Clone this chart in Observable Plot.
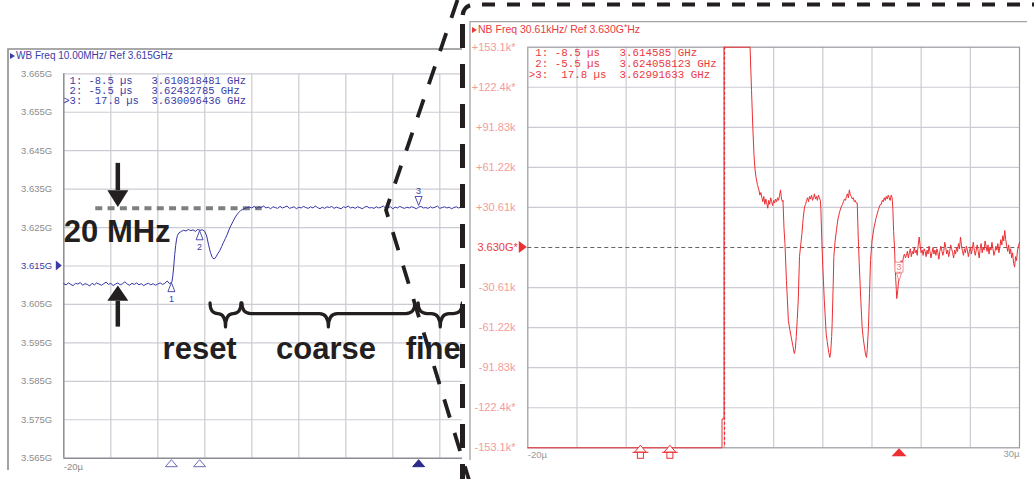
<!DOCTYPE html>
<html>
<head>
<meta charset="utf-8">
<script src="https://cdn.jsdelivr.net/npm/d3@7"></script>
<script src="https://cdn.jsdelivr.net/npm/@observablehq/plot@0.6"></script>
<style>
  html, body { margin: 0; padding: 0; background: #fff; }
  #root { position: relative; width: 1034px; height: 479px; overflow: hidden; background: #fff; font-family: "Liberation Sans", Arial, sans-serif; }
  #leftClip { position: absolute; left: 0; top: 0; width: 462px; height: 479px; overflow: hidden; }
  #leftClip svg, #rightHost svg { position: absolute; left: 0; top: 0; max-width: none !important; width: 1034px !important; height: 479px !important; }
  #rightHost { position: absolute; left: 0; top: 0; width: 1034px; height: 479px; }
  .hdr { position: absolute; white-space: pre; line-height: 12px; font-family: "Liberation Sans", Arial, sans-serif; }
  .hdr sup { font-size: 0.8em; vertical-align: 0.3em; line-height: 0; }
  .tri { display: inline-block; width: 0; height: 0; border-top: 3.5px solid transparent; border-bottom: 3.5px solid transparent; margin-right: 1px; vertical-align: 0px; }
  .tbl { position: absolute; margin: 0; white-space: pre; font-family: "Liberation Mono", "DejaVu Sans Mono", monospace; }
  #overlay { position: absolute; left: 0; top: 0; }
</style>
</head>
<body>
<div id="root">
  <div id="leftClip"></div>
  <div id="rightHost"></div>
  <div class="hdr" style="left:10px;top:50px;font-size:10px;color:#3b3ba6"><span class="tri" style="border-left:5px solid #3b3ba6"></span>WB Freq 10.00MHz/ Ref 3.615GHz</div>
  <pre class="tbl" style="left:63.3px;top:75.5px;font-size:10.5px;line-height:10.3px;color:#3b3ba6"> 1: -8.5 µs   3.610818481 GHz
 2: -5.5 µs   3.62432785 GHz
&gt;3:  17.8 µs  3.630096436 GHz</pre>
  <div class="hdr" style="left:472px;top:22.5px;font-size:10.5px;color:#e93a3f"><span class="tri" style="border-left:5px solid #e93a3f"></span>NB Freq 30.61kHz/ Ref 3.630G<sup>*</sup>Hz</div>
  <pre class="tbl" style="left:528.8px;top:47.8px;font-size:10.8px;line-height:11px;color:#e93a3f"> 1: -8.5 µs   3.614585 GHz
 2: -5.5 µs   3.624058123 GHz
&gt;3:  17.8 µs  3.62991633 GHz</pre>
  <svg id="overlay" width="1034" height="479"></svg>
</div>
<script>
// ---------------- data ----------------
const W = 1034, H = 479;
const xGridTicks = [-20, -15, -10, -5, 0, 5, 10, 15, 20, 25, 30];
const leftYTicks = [3.665, 3.655, 3.645, 3.635, 3.625, 3.615, 3.605, 3.595, 3.585, 3.575, 3.565];
const leftYLabels = ["3.665G", "3.655G", "3.645G", "3.635G", "3.625G", "3.615G", "3.605G", "3.595G", "3.585G", "3.575G", "3.565G"];
const leftRefFreq = 3.615;
const rightYTicks = [153.05, 122.44, 91.83, 61.22, 30.61, 0, -30.61, -61.22, -91.83, -122.44, -153.05];
const rightYLabels = ["+153.1k*", "+122.4k*", "+91.83k", "+61.22k", "+30.61k", "3.630G*", "-30.61k", "-61.22k", "-91.83k", "-122.4k*", "-153.1k*"];
const xStartLabel = "-20µ", xEndLabel = "30µ";

const markerTimes = [-8.5, -5.5, 17.8];
const markerIds = ["1", "2", "3"];
const leftMarkerFreq = [3.6108, 3.6243, 3.6301];
const rightMarker3Value = -20;

// left (wide-band) trace, GHz
const leftSampleStep = 0.25;
const leftNoiseAStart = -20;
const leftNoiseA = [
  3.6104, 3.6101, 3.6106, 3.6102, 3.6099, 3.6105, 3.6103, 3.6107, 3.6100, 3.6104,
  3.6102, 3.6098, 3.6105, 3.6101, 3.6106, 3.6103, 3.6100, 3.6104, 3.6108, 3.6102,
  3.6105, 3.6099, 3.6103, 3.6106, 3.6101, 3.6104, 3.6109, 3.6103, 3.6100, 3.6105,
  3.6102, 3.6106, 3.6101, 3.6104, 3.6099, 3.6103, 3.6105, 3.6101, 3.6104, 3.6100,
  3.6103, 3.6106, 3.6102, 3.6105, 3.6111, 3.6104
];
const leftStepT = [-8.5, -8.4, -8.3, -8.2, -8.1, -8.0, -7.9, -7.75, -7.5,
  -7.25, -7.0, -6.75, -6.5, -6.25, -6.0, -5.75, -5.5, -5.25,
  -5.0, -4.8, -4.6, -4.4, -4.2, -4.0, -3.8, -3.6, -3.4, -3.2, -3.0, -2.8, -2.6, -2.4, -2.2, -2.0, -1.8, -1.6, -1.4, -1.2, -1.0,
  -0.75, -0.5];
const leftStepF = [3.6108, 3.6125, 3.6150, 3.6180, 3.6203, 3.6220, 3.6230, 3.6236, 3.6240,
  3.6243, 3.6241, 3.6245, 3.6242, 3.6244, 3.6240, 3.6245, 3.6243, 3.6244,
  3.6240, 3.6228, 3.6205, 3.6185, 3.6172, 3.6168, 3.6174, 3.6183, 3.6190, 3.6201, 3.6212, 3.6222, 3.6233, 3.6246, 3.6256, 3.6266, 3.6275, 3.6283, 3.6289, 3.6294, 3.6297,
  3.6300, 3.6302];
const leftNoiseBStart = -0.25;
const leftNoiseB = [
  3.6303, 3.6301, 3.6305, 3.6300, 3.6304, 3.6302, 3.6306, 3.6301, 3.6303, 3.6299,
  3.6304, 3.6302, 3.6300, 3.6305, 3.6301, 3.6303, 3.6306, 3.6300, 3.6302, 3.6304,
  3.6299, 3.6303, 3.6301, 3.6305, 3.6302, 3.6300, 3.6304, 3.6301, 3.6306, 3.6302,
  3.6299, 3.6303, 3.6300, 3.6304, 3.6302, 3.6305, 3.6300, 3.6303, 3.6301, 3.6299,
  3.6304, 3.6302, 3.6306, 3.6301, 3.6303, 3.6300, 3.6304, 3.6302, 3.6299, 3.6303,
  3.6305, 3.6301, 3.6302, 3.6300, 3.6304, 3.6301, 3.6303, 3.6306, 3.6300, 3.6302,
  3.6304, 3.6299, 3.6303, 3.6301, 3.6305, 3.6302, 3.6300, 3.6303, 3.6301, 3.6304,
  3.6302, 3.6299, 3.6303, 3.6305, 3.6301, 3.6302, 3.6300, 3.6304, 3.6301, 3.6303,
  3.6306, 3.6300, 3.6302, 3.6304, 3.6301, 3.6303, 3.6299, 3.6302, 3.6304, 3.6301,
  3.6303, 3.6302
];

// right (narrow-band) trace, kHz offset from 3.630 GHz
const rightStep = 0.1;
const rightRiseT = [-20, -0.25, -0.25, -0.05, -0.05, 2.6, 2.75, 2.88, 3.0, 3.1, 3.2, 3.35, 3.5, 3.6];
const rightRiseV = [-153.05, -153.05, -131, -131, 153.05, 153.05, 120, 92, 71, 60, 54, 48, 44, 40];
const rightPlateau1 = [42, 38, 35, 39, 33, 37, 34, 30, 36, 33, 38, 35, 32, 36, 34, 37, 35, 38, 36, 40, 44, 37, 35];
const rightDip1T = [5.95, 6.05, 6.15, 6.3, 6.5, 6.65, 6.8, 6.95, 7.1, 7.2, 7.3, 7.4, 7.5, 7.63, 7.75, 7.87, 8.0, 8.14];
const rightDip1V = [36, 15, 3, -25, -56, -63, -69, -75, -81, -78, -68, -55, -40, -7, 2, 10, 22, 31];
const rightPlateau2 = [33, 36, 38, 35, 39, 37, 40, 36, 38, 41, 37, 39, 36, 40, 38, 36];
const rightDip2T = [9.8, 9.9, 10.0, 10.15, 10.34, 10.45, 10.6, 10.71, 10.8, 10.9, 10.95, 11.05, 11.12, 11.25, 11.4, 11.52, 11.7, 11.87];
const rightDip2V = [30, 5, -15, -40, -66, -72, -80, -84, -80, -68, -58, -30, -7, 5, 14, 21, 27, 31];
const rightPlateau3 = [33, 35, 37, 36, 39, 41, 38, 44, 40, 39, 37, 38, 35, 36, 34];
const rightDip3T = [13.5, 13.6, 13.7, 13.85, 14.0, 14.12, 14.25, 14.35, 14.44, 14.52, 14.64, 14.75, 14.85, 15.0, 15.2, 15.43, 15.65, 15.85];
const rightDip3V = [34, 8, -12, -38, -61, -70, -77, -82, -84, -78, -61, -35, -10, 5, 15, 23, 29, 33];
const rightPlateau4 = [33, 36, 35, 38, 36, 39, 37, 40, 38, 36, 40, 38];
const rightDip4T = [17.12, 17.2, 17.29, 17.4, 17.52, 17.62, 17.73, 17.85, 17.97, 18.1, 18.2, 18.3, 18.4];
const rightDip4V = [30, 12, 0, -22, -39, -33, -23, -15, -10, -12, -7, -5, -8];
const rightTail = [
  -6, -3, -8, -4, -1, -7, -3, -5, 0, -4,
  -2, -6, 2, 8, 1, -4, -2, -6, -1, -3,
  -7, -2, -5, 1, -3, -8, -4, 0, -5, -2,
  -6, -1, -4, -9, -3, 1, -2, -6, -3, 4,
  0, -5, -2, -7, -3, 2, -1, -4, -8, -2,
  -5, 0, -3, 3, -1, 8, 2, -3, -6, -1,
  -4, 1, -2, -7, -3, 0, -5, -1, 4, -2,
  -6, -2, 2, -3, -8, -1, 3, -4, 0, -2,
  5, 1, -3, 2, -5, 0, -2, 4, -1, -6,
  -3, 1, -2, 3, -4, 0, 6, 2, 9, 5,
  13, 6, 1, -3, 2, -5, -1, -8, -4, -12,
  -15, -7, -10, -2, 1, 4
];

// annotation text
const mhzLabel = "20 MHz";
const phaseLabels = ["reset", "coarse", "fine"];
const phaseLabelT = [-5.55, 7.9, 19.3];

// ---------------- helpers ----------------
const sampled = (start, step, vals) => vals.map((v, i) => ({t: +(start + i * step).toFixed(3), v}));
const paired = (ts, vs) => ts.map((t, i) => ({t, v: vs[i]}));

const leftTrace = [
  ...sampled(leftNoiseAStart, leftSampleStep, leftNoiseA),
  ...paired(leftStepT, leftStepF),
  ...sampled(leftNoiseBStart, leftSampleStep, leftNoiseB)
];
const rightTrace = [
  ...paired(rightRiseT, rightRiseV),
  ...sampled(3.7, rightStep, rightPlateau1),
  ...paired(rightDip1T, rightDip1V),
  ...sampled(8.25, rightStep, rightPlateau2),
  ...paired(rightDip2T, rightDip2V),
  ...sampled(12.0, rightStep, rightPlateau3),
  ...paired(rightDip3T, rightDip3V),
  ...sampled(15.95, rightStep, rightPlateau4),
  ...paired(rightDip4T, rightDip4V),
  ...sampled(18.5, rightStep, rightTail)
];

// ---------------- styles ----------------
const ink = "#231f20";
const gridC = "#cbcbd3";
const frameC = "#9a9aa2";
const blue = "#3b3ba6";
const blueTrace = "#3434a6";
const navy = "#2a2a8c";
const red = "#ec2f33";
const redText = "#e93a3f";
const pink = "#f29c9c";
const tickGray = "#8c8c8c";
const font = "Liberation Sans, Arial, sans-serif";
const svgStyle = {background: "transparent", fontFamily: font, overflow: "visible", maxWidth: "none", width: W + "px", height: H + "px"};

// annotation geometry in data units (left chart)
const arrowSpecs = [
  {t: -14.2, from: 3.6417, base: 3.6346, tip: 3.6302},
  {t: -14.2, from: 3.5991, base: 3.6058, tip: 3.6098}
];
const braceSpecs = [
  {t1: -4.39, t2: -1.1},
  {t1: -1.0, t2: 17.4},
  {t1: 17.75, t2: 22.45}
];
const braceEnd = 3.6053, braceBody = 3.6025, braceTip = 3.5990;

function leftDecor(index, scales, values, dims) {
  const x = scales.x, y = scales.y;
  const g = d3.create("svg:g");
  for (const a of arrowSpecs) {
    const xp = x(a.t), y0 = y(a.from), yb = y(a.base), yt = y(a.tip);
    g.append("line").attr("x1", xp).attr("x2", xp).attr("y1", y0).attr("y2", yb)
      .attr("stroke", ink).attr("stroke-width", 4.5);
    g.append("path").attr("d", `M${xp - 10.5},${yb}L${xp + 10.5},${yb}L${xp},${yt}Z`).attr("fill", ink);
  }
  for (const b of braceSpecs) {
    const x1 = x(b.t1), x2 = x(b.t2), xm = (x1 + x2) / 2;
    const yE = y(braceEnd), yB = y(braceBody), yP = y(braceTip);
    const q = Math.min(9, (x2 - x1) / 4);
    const d = `M${x1},${yE}Q${x1},${yB} ${x1 + q},${yB}L${xm - q},${yB}Q${xm},${yB} ${xm},${yP}` +
              `Q${xm},${yB} ${xm + q},${yB}L${x2 - q},${yB}Q${x2},${yB} ${x2},${yE}`;
    g.append("path").attr("d", d).attr("fill", "none").attr("stroke", ink)
      .attr("stroke-width", 3.2).attr("stroke-linecap", "round").attr("stroke-linejoin", "round");
  }
  markerTimes.forEach((t, i) => {
    const xp = x(t), yp = y(leftMarkerFreq[i]);
    if (i < 2) {
      g.append("path").attr("d", `M${xp},${yp + 1}L${xp - 3.5},${yp + 10}L${xp + 3.5},${yp + 10}Z`)
        .attr("fill", "white").attr("stroke", blue).attr("stroke-width", 0.9);
      g.append("text").attr("x", xp).attr("y", yp + 17).attr("text-anchor", "middle").attr("dy", "0.35em")
        .attr("font-size", 9).attr("font-family", font).attr("fill", blue).text(markerIds[i]);
    } else {
      g.append("path").attr("d", `M${xp},${yp - 2}L${xp - 3.5},${yp - 11}L${xp + 3.5},${yp - 11}Z`)
        .attr("fill", "white").attr("stroke", blue).attr("stroke-width", 0.9);
      g.append("text").attr("x", xp).attr("y", yp - 17).attr("text-anchor", "middle").attr("dy", "0.35em")
        .attr("font-size", 9).attr("font-family", font).attr("fill", blue).text(markerIds[i]);
    }
  });
  const yb = dims.height - dims.marginBottom;
  markerTimes.forEach((t, i) => {
    const xp = x(t);
    g.append("path").attr("d", `M${xp},${yb + 2}L${xp - 6},${yb + 9}L${xp + 6},${yb + 9}Z`)
      .attr("fill", i < 2 ? "white" : navy).attr("stroke", i < 2 ? "#6a6ab8" : navy).attr("stroke-width", 1);
  });
  const yr = y(leftRefFreq), xl = dims.marginLeft;
  g.append("path").attr("d", `M${xl - 7.5},${yr - 5}L${xl - 1.5},${yr}L${xl - 7.5},${yr + 5}Z`).attr("fill", blue);
  return g.node();
}

function rightDecor(index, scales, values, dims) {
  const x = scales.x, y = scales.y;
  const g = d3.create("svg:g");
  const yb = dims.height - dims.marginBottom;
  markerTimes.forEach((t, i) => {
    const xp = x(t);
    if (i < 2) {
      g.append("path").attr("d", `M${xp},${yb - 2}L${xp - 6},${yb + 5}L${xp + 6},${yb + 5}Z`)
        .attr("fill", "white").attr("stroke", red).attr("stroke-width", 1);
      g.append("path").attr("d", `M${xp - 8},${yb + 5}H${xp + 8}`).attr("stroke", red).attr("stroke-width", 1);
      g.append("rect").attr("x", xp - 3).attr("y", yb + 5).attr("width", 6).attr("height", 6)
        .attr("fill", "white").attr("stroke", red).attr("stroke-width", 1);
    } else {
      g.append("path").attr("d", `M${xp},${yb + 1}L${xp - 7.5},${yb + 9}L${xp + 7.5},${yb + 9}Z`).attr("fill", red);
      const yp = y(rightMarker3Value);
      g.append("path").attr("d", `M${xp},${yp + 8}L${xp - 2.5},${yp}L${xp + 2.5},${yp}Z`)
        .attr("fill", "white").attr("stroke", "#f07a7a").attr("stroke-width", 0.9);
      g.append("rect").attr("x", xp - 4).attr("y", yp - 11).attr("width", 8).attr("height", 10)
        .attr("fill", "white").attr("stroke", "#f07a7a").attr("stroke-width", 0.8);
      g.append("text").attr("x", xp).attr("y", yp - 6).attr("text-anchor", "middle").attr("dy", "0.35em")
        .attr("font-size", 9).attr("font-family", font).attr("fill", "#f07a7a").text(markerIds[i]);
    }
  });
  const yr = y(0), xl = dims.marginLeft;
  g.append("path").attr("d", `M${xl - 8.5},${yr - 6}L${xl - 0.5},${yr}L${xl - 8.5},${yr + 6}Z`).attr("fill", red);
  return g.node();
}

// ---------------- left chart ----------------
const leftTickData = leftYTicks.map((v, i) => ({v, label: leftYLabels[i]}));
const leftChart = Plot.plot({
  width: W, height: H,
  marginLeft: 63.3, marginRight: W - 533.3, marginTop: 73.3, marginBottom: H - 457.7,
  x: {domain: [-20, 30], axis: null},
  y: {domain: [3.565, 3.665], axis: null},
  style: svgStyle,
  marks: [
    Plot.gridX(xGridTicks.slice(1), {stroke: gridC, strokeOpacity: 1, strokeWidth: 1.2}),
    Plot.gridY(leftYTicks.slice(0, -1), {stroke: gridC, strokeOpacity: 1, strokeWidth: 1.2}),
    Plot.ruleX([-20], {stroke: "#8c8c94", strokeWidth: 1.5}),
    Plot.ruleY([3.565], {stroke: "#8c8c94", strokeWidth: 1.5}),
    Plot.ruleY([3.630], {x1: -16.6, x2: 1.1, stroke: "#7d8080", strokeWidth: 4, strokeDasharray: "7,5.3"}),
    Plot.line(leftTrace, {x: "t", y: "v", stroke: blueTrace, strokeWidth: 1}),
    Plot.text(leftTickData.filter(d => d.v !== leftRefFreq), {x: -20, y: "v", text: "label", textAnchor: "end", dx: -11.6, fontSize: 9.5, fill: tickGray, fontFamily: font}),
    Plot.text(leftTickData.filter(d => d.v === leftRefFreq), {x: -20, y: "v", text: "label", textAnchor: "end", dx: -11.6, fontSize: 9.5, fill: blue, fontFamily: font}),
    Plot.text([xStartLabel], {x: -20, y: 3.565, text: d => d, textAnchor: "start", dy: 9, fontSize: 9.5, fill: tickGray, fontFamily: font}),
    Plot.text([mhzLabel], {x: -20, y: 3.6212, text: d => d, textAnchor: "start", lineAnchor: "bottom", fontSize: 31, fontWeight: "bold", fill: ink, fontFamily: font}),
    Plot.text(phaseLabels, {x: (d, i) => phaseLabelT[i], y: 3.5909, text: d => d, textAnchor: "middle", lineAnchor: "bottom", fontSize: 31, fontWeight: "bold", fill: ink, fontFamily: font}),
    leftDecor
  ]
});
document.getElementById("leftClip").appendChild(leftChart);

// ---------------- right chart ----------------
const rightTickData = rightYTicks.map((v, i) => ({v, label: rightYLabels[i]}));
const rightChart = Plot.plot({
  width: W, height: H,
  marginLeft: 527.3, marginRight: W - 1019, marginTop: 46.7, marginBottom: H - 447.3,
  x: {domain: [-20, 30], axis: null},
  y: {domain: [-153.05, 153.05], axis: null},
  style: svgStyle,
  marks: [
    Plot.gridX(xGridTicks.slice(1, -1), {stroke: gridC, strokeOpacity: 1, strokeWidth: 1.2}),
    Plot.gridY(rightYTicks.slice(1, -1).filter(v => v !== 0), {stroke: gridC, strokeOpacity: 1, strokeWidth: 1.2}),
    Plot.frame({stroke: frameC, strokeWidth: 1.2}),
    Plot.ruleY([0], {stroke: "#666", strokeWidth: 1, strokeDasharray: "4,3"}),
    Plot.ruleX([0], {stroke: red, strokeWidth: 1.2, strokeDasharray: "3,2"}),
    Plot.line(rightTrace, {x: "t", y: "v", stroke: red, strokeWidth: 1}),
    Plot.text(rightTickData.filter(d => d.v !== 0), {x: -20, y: "v", text: "label", textAnchor: "end", dx: -12.3, fontSize: 11, fill: pink, fontFamily: font}),
    Plot.text(rightTickData.filter(d => d.v === 0), {x: -20, y: "v", text: "label", textAnchor: "end", dx: -10, fontSize: 11, fill: redText, fontFamily: font}),
    Plot.text([xStartLabel], {x: -20, y: -153.05, text: d => d, textAnchor: "start", dy: 7, fontSize: 9.5, fill: "#999", fontFamily: font}),
    Plot.text([xEndLabel], {x: 30, y: -153.05, text: d => d, textAnchor: "end", dy: 6, fontSize: 9.5, fill: "#999", fontFamily: font}),
    rightDecor
  ]
});
document.getElementById("rightHost").appendChild(rightChart);

// ---------------- panel frames and zoom callout (decoration) ----------------
const ov = d3.select("#overlay");
ov.append("path").attr("d", "M8,470V49H462").attr("fill", "none").attr("stroke", "#8d8d8d").attr("stroke-width", 1.6);
ov.append("path").attr("d", "M470,460V21.7H1027").attr("fill", "none").attr("stroke", "#a3a3a3").attr("stroke-width", 1.3);
ov.append("path").attr("d", "M1045,4.5H476Q462.5,4.5 462.5,18").attr("fill", "none").attr("stroke", ink)
  .attr("stroke-width", 4.2).attr("stroke-dasharray", "13,12");
ov.append("path").attr("d", "M462.5,18V478Q462.5,492 476,492").attr("fill", "none").attr("stroke", ink)
  .attr("stroke-width", 5).attr("stroke-dasharray", "24,16").attr("stroke-dashoffset", "-6");
ov.append("path").attr("d", "M457.5,0L386,210L469,480").attr("fill", "none").attr("stroke", ink)
  .attr("stroke-width", 3.8).attr("stroke-dasharray", "19,16").attr("stroke-linejoin", "round");
</script>
</body>
</html>
